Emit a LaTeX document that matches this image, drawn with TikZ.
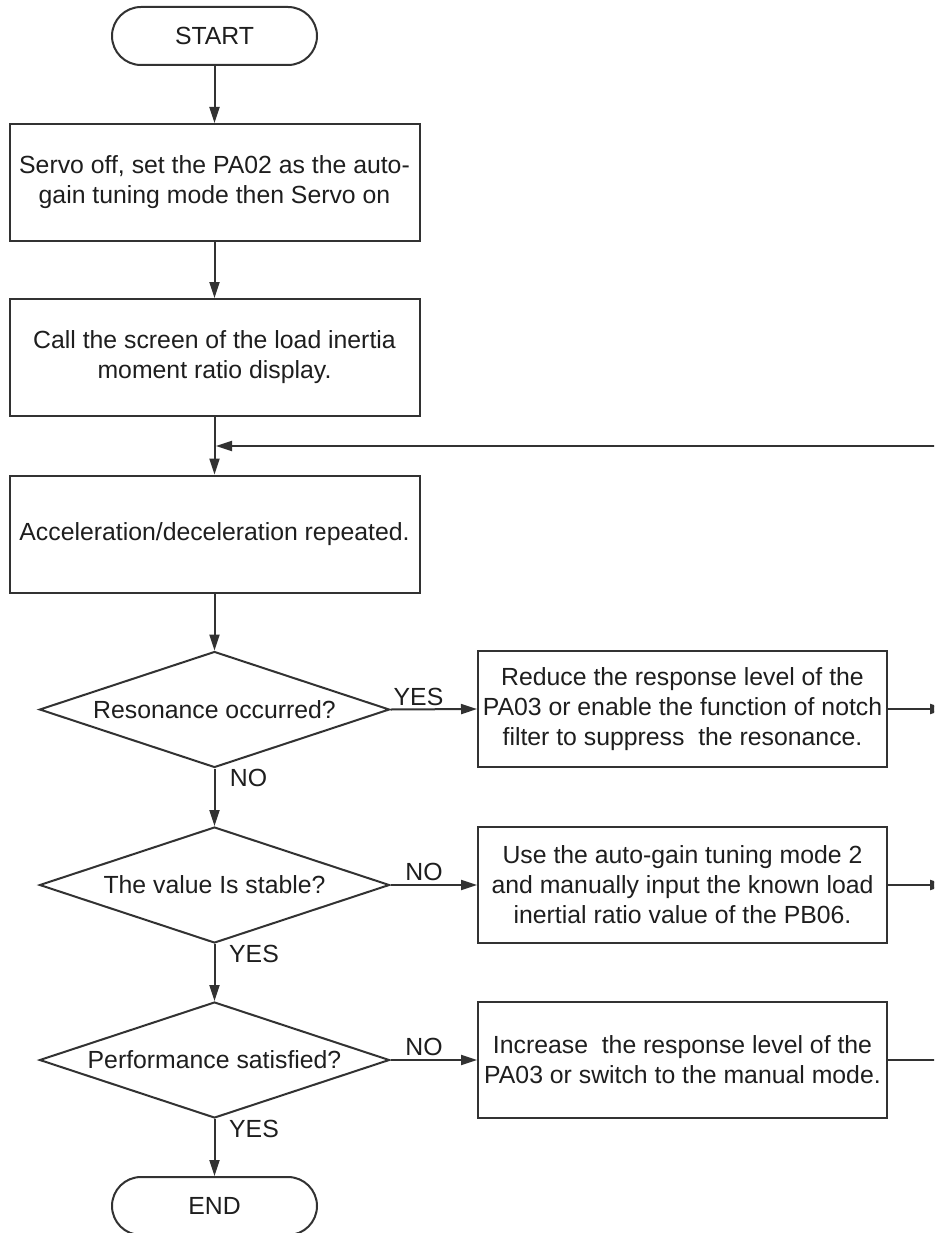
\documentclass[tikz,border=0pt]{standalone}
\usepackage{fontspec}
\setmainfont{Liberation Sans}
\usetikzlibrary{arrows.meta,shapes.geometric}
\definecolor{ln}{RGB}{50,50,50}
\definecolor{tx}{RGB}{30,30,30}
\begin{document}
\begin{tikzpicture}[x=1pt,y=-1pt,
  every node/.style={font=\fontsize{24.8}{30}\selectfont, text=tx},
  box/.style={draw=ln, line width=2pt, rectangle, align=center, minimum width=410pt, minimum height=117pt, inner sep=0pt},
  term/.style={draw=ln, line width=2pt, rectangle, rounded corners=29pt, minimum width=205pt, minimum height=58pt, inner sep=0pt},
  dec/.style={draw=ln, line width=2pt, diamond, minimum width=350pt, minimum height=116pt, inner sep=0pt},
  lbl/.style={inner sep=0pt},
  conn/.style={draw=ln, line width=2pt, -{Triangle[length=16pt,width=10pt]}},
  plain/.style={draw=ln, line width=2pt}
]
\useasboundingbox (0,0) rectangle (934,1233);
\clip (0,0) rectangle (934,1233);
\fill[white] (0,0) rectangle (934,1233);

\node[term] (start) at (214.5,36) {START};
\node[box] (b1) at (214.5,182.5) {Servo off, set the PA02 as the auto-\\gain tuning mode then Servo on};
\node[box] (b2) at (214.5,357.5) {Call the screen of the load inertia\\moment ratio display.};
\node[box] (b3) at (214.5,534) {Acceleration/deceleration repeated.};
\node[dec] (d1) at (214.5,709.5) {\makebox[0pt]{Resonance occurred?}};
\node[dec] (d2) at (214.5,885) {\makebox[0pt]{The value Is stable?}};
\node[dec] (d3) at (214.5,1060) {\makebox[0pt]{Performance satisfied?}};
\node[term] (end) at (214.5,1206) {END};

\node[box, minimum width=409pt, minimum height=116pt] (b4) at (682.5,709) {Reduce the response level of the\\PA03 or enable the function of notch\\filter to suppress\ \ the resonance.};
\node[box, minimum width=409pt, minimum height=116pt] (b5) at (682.5,885) {Use the auto-gain tuning mode 2\\and manually input the known load\\inertial ratio value of the PB06.};
\node[box, minimum width=409pt, minimum height=116pt] (b6) at (682.5,1060) {Increase\ \ the response level of the\\PA03 or switch to the manual mode.};

\coordinate (j) at (216,446);
\coordinate (fb) at (960,446);
\coordinate (r4) at (946,709);
\coordinate (r5) at (946,885);
\coordinate (r6) at (960,1060);

\draw[conn] (start) -- (b1);
\draw[conn] (b1) -- (b2);
\draw[conn] (b2) -- (b3);
\draw[conn] (fb) -- (j);
\draw[conn] (b3) -- (d1);
\draw[conn] (d1) -- (d2);
\draw[conn] (d2) -- (d3);
\draw[conn] (d3) -- (end);
\draw[conn] (d1.east) -- (b4.west);
\draw[conn] (d2.east) -- (b5.west);
\draw[conn] (d3.east) -- (b6.west);
\draw[conn] (b4.east) -- (r4);
\draw[conn] (b5.east) -- (r5);
\draw[plain] (b6.east) -- (r6);

\node[lbl] (ly1) at (418.5,697) {YES};
\node[lbl] (ln1) at (248.5,778) {NO};
\node[lbl] (ln2) at (424,872) {NO};
\node[lbl] (ly2) at (254,954) {YES};
\node[lbl] (ln3) at (424,1047) {NO};
\node[lbl] (ly3) at (254,1129) {YES};
\end{tikzpicture}
\end{document}
